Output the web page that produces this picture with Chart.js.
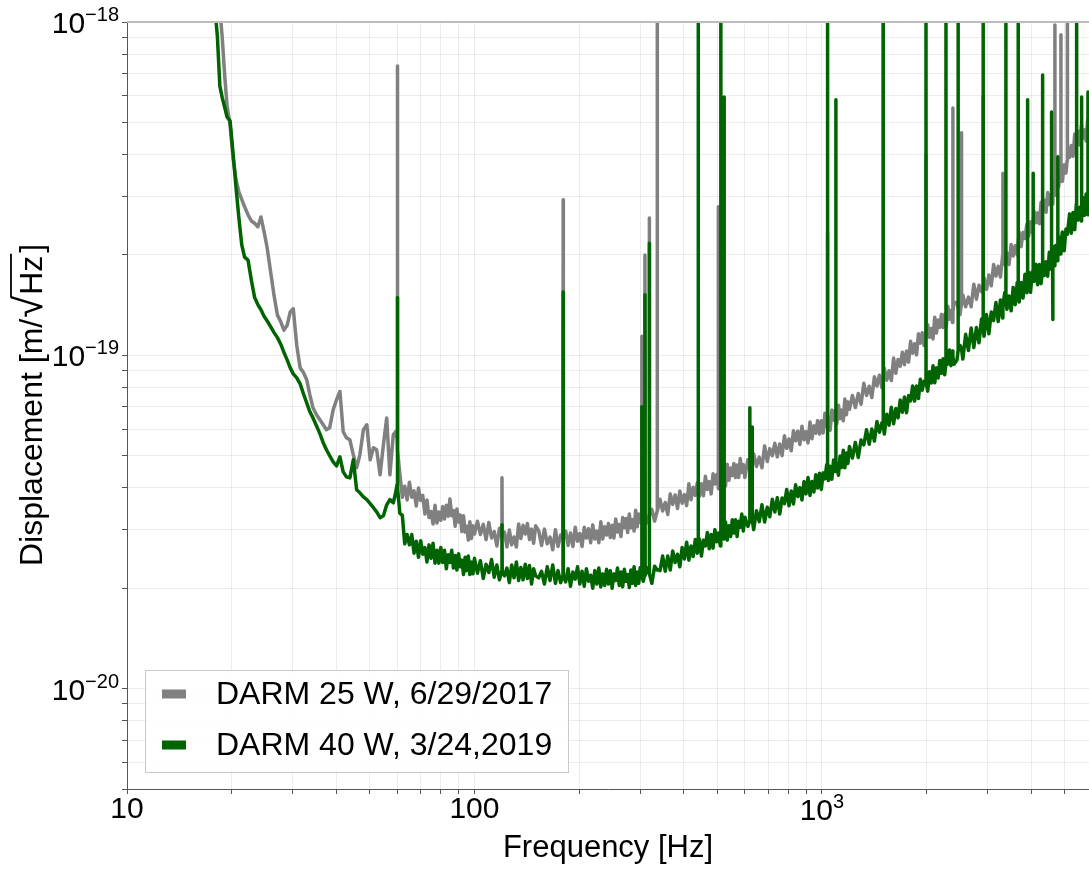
<!DOCTYPE html>
<html><head><meta charset="utf-8">
<script src="https://cdn.jsdelivr.net/npm/chart.js@4.4.1/dist/chart.umd.min.js"></script>
<style>html,body{margin:0;padding:0;background:#fff;}canvas{display:block;}</style>
</head><body>
<canvas id="c" width="1089" height="869"></canvas>
<script>
// Frequencies (Hz), shared by both spectra
const freqHz = [
 17.9,18.2,18.5,18.8,19.1,19.4,19.8,20.2,20.6,21.0,
 21.4,21.8,22.3,22.8,23.3,23.8,24.3,24.8,25.3,25.9,
 26.5,27.1,27.7,28.3,28.9,29.5,30.1,30.8,31.5,32.2,
 32.9,33.6,34.3,35.1,35.9,36.7,37.5,38.3,39.2,40.1,
 41.0,41.9,42.8,43.8,44.8,45.8,46.8,47.9,49.0,50.1,
 51.2,52.3,53.5,54.7,55.9,57.1,58.4,59.3,59.9,60.0,60.1,
 61,62,63,64,65,66,67,68,69,70, 71,72,73,74,75,76,77,78,79,80,
 81,82,83,84,85,86,87,88,89,90, 91,92,93,94,95,96,97,98,99,100,
 102,104,106,108,110,112,114,116,118,119.8, 120,120.2,122,124,126,128,130,132,134,136,
 138,140,142,144,146,148,150,
 153,156,159,162,165,168,171,174,177,179.8, 180,180.2,183,186,189,192,195,198,201,204,
 207,210,213,216,219,222,225,228,231,234, 237,240,243,246,249,252,255,258,261,264,
 267,270,273,276,279,282,285,288,291,294, 297,300,
 302.5,303,303.5,306,309,309.5,310,312,318,318.5, 319,324,330,335.3,335.7,336.1,342,348,354,360,
 366,372,378,384,390,396,402,408,414,420, 426,432,438,440,440.5,441,444,450,456,462,
 468,474,480,486,492,498,502.6,503,503.4,504, 510,511.5,512,512.5,516,522,522.6,523,523.4,528,
 534,540,546,552,558,564,570,576,582,588, 594,600,
 612,619.6,620,620.4,624,629.6,630,630.4,636,648, 660,672,684,696,708,720,732,744,756,768,
 780,792,804,816,828,840,852,864,876,888, 900,912,924,936,948,960,972,984,996,1008,
 1020,1032,1037.5,1038,1038.5,1044,1056,1068,1080,1092, 1096.5,1097,1097.5,1104,1116,1128,1140,1152,1164,1176,
 1188,1200,
 1224,1248,1272,1296,1320,1344,1368,1392,1416,1440, 1464,1488,1500,1501,1502,1512,1536,1560,1584,1608,
 1632,1656,1680,1704,1728,1752,1776,1800,1824,1848, 1872,1896,1920,1944,1968,1992,1993,1994,2016,2040,
 2064,2088,2112,2136,2160,2184,2208,2232,2256,2274, 2275,2276,2280,2304,2328,2352,2376,2381,2382,2383,
 2400,
 2448,2465,2466,2467,2496,2521,2522,2523,2544,2592, 2640,2688,2736,2784,2832,2880,2910,2911,2912,2928,
 2976,3024,3072,3120,3168,3216,3264,3312,3317,3318, 3319,3360,3383,3384,3385,3408,3456,3504,3552,3600,
 3648,3671,3672,3673,3696,3744,3792,3840,3888,3907, 3908,3909,3936,3984,4032,4054,4055,4056,4080,4128,
 4176,4224,4272,4314,4315,4316,4320,4368,4416,4464, 4512,4560,4579,4580,4581,4608,4619,4620,4621,4656,
 4682,4683,4684,4704,4752,4774,4775,4776,4800,
 4860,4873,4874,4875,4920,4980,5040,5080,5081,5082, 5100,5160,5220,5280,5340,5400,5407,5408,5409,5460,
 5520,5580,5589,5590,5591,5640,5700,5760,5820,5829, 5830,5831,5880
];
// DARM 25 W, 6/29/2017 — displacement in units of 1e-20 m/sqrt(Hz)
const darm2017 = [
 140,125,110,89.5,69.4,56.3,49.1,39.0,33.6,30.9,
 29.3,27.9,26.4,25.3,24.9,24.3,26.0,23.5,21.1,17.8,
 15.1,13.2,12.6,11.9,12.3,13.5,13.8,10.7,9.17,8.88,
 8.45,7.61,6.96,6.63,6.41,6.19,5.98,6.06,6.86,7.36,
 7.79,5.90,5.66,5.58,5.03,4.60,5.03,5.98,6.19,4.86,
 5.28,5.21,4.38,5.39,6.49,4.38,5.78,5.90,5.6,73.8,5.2,
 4.41,3.75,4.05,3.68,4.16,3.75,3.92,3.53,4.00,3.67, 3.80,3.34,3.68,3.26,3.40,3.12,3.55,3.14,3.39,3.20,
 3.52,3.23,3.55,3.29,3.71,3.30,3.42,3.07,3.46,3.16, 3.32,2.96,3.30,2.95,3.07,2.79,3.17,2.82,3.08,2.91,
 3.18,2.90,3.11,2.80,3.15,2.83,2.96,2.68,3.03,2.85, 4.29,2.85,2.95,2.66,2.99,2.70,2.85,2.66,3.12,2.82,
 3.09,2.91,3.13,2.80,3.01,2.73,3.08,
 2.98,2.69,3.01,2.72,2.85,2.61,3.00,2.67,2.89,2.82, 29.3,2.82,2.97,2.69,2.93,2.67,3.05,2.77,2.92,2.67,
 3.05,2.83,3.02,2.74,3.10,2.81,2.97,2.74,3.17,2.81, 3.06,2.89,3.13,2.84,3.09,2.83,3.23,2.95,3.11,2.86,
 3.26,3.04,3.24,2.94,3.34,3.04,3.21,2.97,3.43,3.06, 3.34,3.15,
 3.25,11.4,3.26,3.43,3.28,20.0,3.28,3.13,3.31,25.8, 3.31,3.45,3.18,3.40,150,3.41,3.70,3.41,3.62,3.33,
 3.84,3.57,3.81,3.47,3.92,3.60,3.82,3.54,4.12,3.69, 4.02,3.80,4.15,3.96,3.96,3.96,3.78,4.12,3.79,4.34,
 3.96,4.18,3.84,4.41,4.11,4.38,4.22,27.9,4.22,3.98, 4.52,4.27,4.27,4.27,4.12,4.36,4.32,4.32,4.32,4.05,
 4.71,4.22,4.59,4.36,4.74,4.30,4.69,4.30,4.90,4.45, 4.70,4.30,
 4.86,4.70,4.70,4.70,4.44,4.75,4.75,4.75,5.07,4.64, 4.95,4.60,5.35,4.80,5.25,5.00,5.45,4.96,5.42,5.00,
 5.74,5.26,5.61,5.17,5.94,5.54,5.92,5.40,6.13,5.58, 5.90,5.46,6.31,5.62,6.15,5.84,6.37,5.81,6.36,5.85,
 6.70,6.12,6.33,23.3,6.33,6.49,5.96,6.86,6.39,6.84, 6.60,6.60,6.60,6.23,7.08,6.46,6.85,6.36,7.39,6.63,
 7.25,6.89,
 7.58,6.97,7.68,7.13,8.24,7.58,8.08,7.47,8.63,8.09, 8.72,8.00,8.57,150,8.57,9.16,8.42,8.99,8.40,9.81,
 8.84,9.72,9.28,10.21,9.37,10.31,9.54,11.02,10.15,10.83, 10.03,11.60,10.88,11.69,10.70,11.52,40,11.52,12.36,11.33,
 12.04,11.20,13.01,11.67,12.77,12.14,13.27,12.12,13.27,12.95, 12.95,12.95,12.22,14.04,12.84,13.63,12.54,13.5,55.2,13.5,
 14.42,
 14.39,13.9,13.9,13.9,13.24,14.2,46.5,14.2,15.18,13.98, 14.95,13.99,16.35,14.74,16.23,15.52,16.15,60,16.15,17.12,
 15.77,17.41,16.17,18.73,17.29,18.50,17.17,19.91,18.8,35.2, 18.8,18.72,19.3,19.3,19.3,20.28,18.71,21.52,19.87,21.31,
 20.00,21.7,21.7,21.7,23.43,21.19,23.38,22.41,24.72,23.7, 23.7,23.7,22.78,25.15,23.37,25.0,25.0,25.0,27.07,24.99,
 26.74,24.81,28.77,27.5,27.5,27.5,27.05,29.20,26.85,30.78, 28.34,30.30,30.2,30.2,30.2,28.46,30.6,30.6,30.6,33.38,
 31.5,97.9,31.5,30.21,33.37,32.5,32.5,32.5,32.01,
 35.7,34.2,91.6,34.2,33.25,37.29,35.25,38.5,150,38.5, 41.52,39.29,42.64,39.53,46.11,43.61,44.5,44.5,44.5,47.01,
 42.77,48.97,46.2,46.2,46.2,44.83,47.47,43.99,51.04,47.7, 47.7,47.7,45.6
];
// DARM 40 W, 3/24,2019 — displacement in units of 1e-20 m/sqrt(Hz)
const darm2019 = [
 110,90.8,64.3,59.2,55.6,51.9,50.5,40.2,31.8,25.7,
 21.4,19.7,19.3,16.8,14.9,14.2,13.7,13.1,12.7,12.2,
 11.7,11.3,10.8,10.2,9.69,9.17,8.80,8.56,8.21,7.67,
 7.20,6.77,6.49,6.15,5.82,5.47,5.21,5.00,4.79,4.66,
 4.96,4.47,4.32,4.29,4.86,3.95,3.87,3.76,3.69,3.59,
 3.49,3.39,3.26,3.30,3.56,3.69,3.61,3.87,4.1,14.9,4.0,
 3.36,3.31,2.72,2.90,2.70,2.90,2.55,2.77,2.48,2.78, 2.53,2.65,2.40,2.70,2.46,2.73,2.38,2.60,2.38,2.65,
 2.39,2.60,2.29,2.52,2.39,2.60,2.30,2.51,2.27,2.54, 2.32,2.43,2.20,2.48,2.26,2.50,2.20,2.40,2.21,2.46,
 2.22,2.42,2.14,2.36,2.23,2.44,2.16,2.35,2.12,2.25, 3.10,2.25,2.18,2.30,2.08,2.35,2.15,2.40,2.11,2.31,
 2.12,2.36,2.14,2.34,2.06,2.29,2.18,
 2.15,2.25,2.06,2.32,2.11,2.35,2.07,2.26,2.08,2.19, 15.5,2.19,2.09,2.29,2.03,2.24,2.13,2.32,2.06,2.25,
 2.03,2.29,2.10,2.19,2.00,2.26,2.06,2.30,2.02,2.21, 2.04,2.28,2.06,2.26,2.00,2.21,2.11,2.30,2.04,2.24,
 2.02,2.28,2.10,2.20,2.01,2.27,2.07,2.32,2.04,2.24, 2.07,2.31,
 2.18,7.01,2.18,2.10,2.19,15.2,2.19,2.31,2.21,21.7, 2.21,2.07,2.33,2.27,2.27,2.28,2.26,2.50,2.25,2.50,
 2.27,2.59,2.39,2.53,2.32,2.65,2.45,2.75,2.43,2.68, 2.49,2.80,2.55,2.67,150,2.67,2.81,2.50,2.79,2.68,
 2.94,2.63,2.90,2.64,3.00,2.76,2.86,2.86,2.86,2.93, 2.68,2.89,150,2.89,3.05,2.81,2.93,59.6,2.93,3.16,
 2.79,3.08,2.86,3.21,2.93,3.21,2.86,3.18,3.05,3.34, 2.97,3.27,
 3.07,3.18,6.96,3.18,3.26,3.21,6.10,3.21,3.00,3.42, 3.17,3.56,3.16,3.50,3.28,3.70,3.39,3.74,3.34,3.73,
 3.59,3.96,3.54,3.92,3.58,4.09,3.77,4.01,3.68,4.18, 3.84,4.30,3.80,4.18,3.89,4.38,4.00,4.43,3.96,4.44,
 4.26,4.70,4.40,150,4.40,4.21,4.65,4.25,4.85,4.48, 4.63,58.4,4.63,4.75,4.37,4.99,4.61,5.19,4.60,5.09,
 4.74,5.33,
 4.92,5.48,4.94,5.57,5.39,5.98,5.41,6.01,5.53,6.33, 5.88,6.27,6.2,150,6.2,5.81,6.66,6.17,6.99,6.23,
 6.93,6.49,7.35,6.75,7.50,6.73,7.57,7.30,8.09,7.29, 8.09,7.42,8.48,7.86,8.36,8.30,150,8.30,7.81,8.93,
 8.26,9.31,8.27,9.17,8.55,9.65,8.83,9.77,8.74,9.45, 150,9.45,9.79,9.41,10.38,9.31,10.30,9.92,9.92,9.92,
 9.40,
 9.69,10.3,150,10.3,10.71,10.5,10.5,10.5,9.75,11.56, 10.34,12.07,10.56,12.12,10.90,12.85,12.0,150,12.0,11.41,
 13.25,11.61,13.50,12.71,14.41,12.63,14.65,12.94,14.1,14.1, 14.1,15.44,14.4,150,14.4,13.74,15.06,13.60,15.99,14.19,
 16.55,15.45,150,15.45,14.45,16.55,14.86,17.50,15.42,16.5, 58.4,16.5,17.76,15.46,17.85,17.1,35.2,17.1,16.68,18.75,
 16.29,18.74,16.41,18.0,69.4,18.0,19.44,17.35,19.08,17.28, 20.37,18.14,19.4,53.7,19.4,21.21,19.8,12.8,19.8,18.58,
 20.1,20.1,20.1,21.34,19.21,20.8,39.4,20.8,22.68,
 20.12,21.7,21.7,21.7,23.43,20.61,23.94,23.8,23.8,23.8, 23.09,26.57,23.25,26.82,23.83,28.62,26.5,150,26.5,25.46,
 27.81,25.30,27.5,59.6,27.5,29.75,26.32,30.46,26.41,28.4, 61.7,28.4,30.03
];
const valueUnit = 1e-20;
const seriesLabels = ['DARM 25 W, 6/29/2017', 'DARM 40 W, 3/24,2019'];
const seriesColors = ['#808080', '#006400'];
const xTickValues = [10,20,30,40,50,60,70,80,90,100,200,300,400,500,600,700,800,900,1000,2000,3000,4000,5000];
const yTickValues = [5e-21,6e-21,7e-21,8e-21,9e-21,1e-20,2e-20,3e-20,4e-20,5e-20,6e-20,7e-20,8e-20,9e-20,
  1e-19,2e-19,3e-19,4e-19,5e-19,6e-19,7e-19,8e-19,9e-19,1e-18];
const xTickLabels = [ {value: 10, base: '10', exp: ''}, {value: 100, base: '100', exp: ''}, {value: 1000, base: '10', exp: '3'} ];
const yTickLabels = [ {value: 1e-20, base: '10', exp: '−20'}, {value: 1e-19, base: '10', exp: '−19'}, {value: 1e-18, base: '10', exp: '−18'} ];
const xTitle = 'Frequency [Hz]';
const yTitleParts = ['Displacement [m/', '√', 'Hz', ']'];

const FAMILY = "'Liberation Sans', Arial, Helvetica, sans-serif";
Chart.defaults.font.family = FAMILY;
Chart.defaults.color = '#000';

const frame = {
  id: 'frame',
  afterDraw(chart){
    const {ctx, chartArea: a} = chart;
    ctx.save();
    ctx.strokeStyle = '#bdbdbd'; ctx.lineWidth = 2;
    ctx.beginPath(); ctx.moveTo(a.left, a.top); ctx.lineTo(a.right, a.top); ctx.stroke();
    ctx.restore();
  }
};

const axisText = {
  id: 'axisText',
  afterDraw(chart){
    const ctx = chart.ctx, xs = chart.scales.x, ys = chart.scales.y;
    const big = "30px " + FAMILY, small = "20px " + FAMILY;
    ctx.save();
    ctx.fillStyle = '#000'; ctx.textAlign = 'left'; ctx.textBaseline = 'alphabetic';
    yTickLabels.forEach(t => {
      const y = ys.getPixelForValue(t.value);
      ctx.font = small; const we = ctx.measureText(t.exp).width;
      ctx.font = big; const wb = ctx.measureText(t.base).width;
      const right = ys.right - 8;
      ctx.font = big; ctx.fillText(t.base, right - we - wb, y + 11);
      ctx.font = small; ctx.fillText(t.exp, right - we, y - 1);
    });
    xTickLabels.forEach(t => {
      const x = xs.getPixelForValue(t.value);
      ctx.font = big; const wb = ctx.measureText(t.base).width;
      ctx.font = small; const we = t.exp ? ctx.measureText(t.exp).width : 0;
      const x0 = x - (wb + we) / 2;
      const base = t.exp ? 820 : 818;
      ctx.font = big; ctx.fillText(t.base, x0, base);
      if (t.exp) { ctx.font = small; ctx.fillText(t.exp, x0 + wb, base - 12); }
    });
    // y-axis title with radical and overline
    ctx.translate(42, 566); ctx.rotate(-Math.PI / 2);
    const f1 = "32px " + FAMILY, f2 = "40px " + FAMILY;
    let u = 0;
    ctx.font = f1; ctx.fillText(yTitleParts[0], u, 0); u += ctx.measureText(yTitleParts[0]).width + 1;
    ctx.font = f2; ctx.fillText(yTitleParts[1], u, 0);
    const mr = ctx.measureText(yTitleParts[1]);
    const barY = -mr.actualBoundingBoxAscent + 1;
    const barStart = u + mr.width - 1.5; u += mr.width + 1;
    ctx.font = f1; ctx.fillText(yTitleParts[2], u, 0); u += ctx.measureText(yTitleParts[2]).width;
    const barEnd = u + 2;
    ctx.fillText(yTitleParts[3], u + 3, 0);
    ctx.strokeStyle = '#000'; ctx.lineWidth = 1.8;
    ctx.beginPath(); ctx.moveTo(barStart, barY); ctx.lineTo(barEnd, barY); ctx.stroke();
    ctx.restore();
  }
};

const legendBox = {
  id: 'legendBox',
  afterDraw(chart){
    const ctx = chart.ctx;
    const x0 = 145.5, y0 = 670.5, w = 423, h = 102;
    ctx.save();
    ctx.fillStyle = 'rgba(255,255,255,0.85)';
    ctx.fillRect(x0, y0, w, h);
    ctx.strokeStyle = '#c8c8c8'; ctx.lineWidth = 1;
    ctx.strokeRect(x0, y0, w, h);
    ctx.font = "32px " + FAMILY;
    ctx.textBaseline = 'middle'; ctx.textAlign = 'left';
    chart.data.datasets.forEach((ds, i) => {
      const yc = 694 + i * 51;
      ctx.fillStyle = ds.borderColor;
      ctx.fillRect(162, yc - 4.5, 24, 9);
      ctx.fillStyle = '#000';
      ctx.fillText(ds.label, 216, yc + 1);
    });
    ctx.restore();
  }
};

const gridColor = 'rgba(0,0,0,0.075)';
new Chart(document.getElementById('c'), {
  type: 'line',
  data: {
    datasets: [
      { label: seriesLabels[0], data: freqHz.map((f, i) => ({x: f, y: darm2017[i] * valueUnit})),
        borderColor: seriesColors[0], backgroundColor: seriesColors[0], borderWidth: 3.5, pointRadius: 0, order: 2, clip: 0 },
      { label: seriesLabels[1], data: freqHz.map((f, i) => ({x: f, y: darm2019[i] * valueUnit})),
        borderColor: seriesColors[1], backgroundColor: seriesColors[1], borderWidth: 3.5, pointRadius: 0, order: 1, clip: 0 }
    ]
  },
  options: {
    responsive: false, animation: false, devicePixelRatio: 1,
    layout: { padding: { top: 22, right: 0, bottom: 0, left: 0 } },
    elements: { line: { tension: 0, borderJoinStyle: 'round', borderCapStyle: 'butt' } },
    plugins: { legend: { display: false }, tooltip: { enabled: false } },
    scales: {
      x: {
        type: 'logarithmic', min: 10, max: 5870,
        afterBuildTicks: s => { s.ticks = xTickValues.map(v => ({value: v})); },
        afterFit: s => { s.height = 80; },
        grid: { color: gridColor, tickColor: '#555', tickLength: 5, lineWidth: 1 },
        border: { color: '#555', width: 1 },
        ticks: { display: false, autoSkip: false },
        title: { display: true, text: xTitle, font: { size: 31 }, color: '#000', padding: { top: 0, bottom: 2 } }
      },
      y: {
        type: 'logarithmic', min: 5e-21, max: 1e-18,
        afterBuildTicks: s => { s.ticks = yTickValues.map(v => ({value: v})); },
        afterFit: s => { s.width = 127; },
        grid: { color: gridColor, tickColor: '#555', tickLength: 5, lineWidth: 1 },
        border: { color: '#555', width: 1 },
        ticks: { display: false, autoSkip: false },
        title: { display: false }
      }
    }
  },
  plugins: [frame, axisText, legendBox]
});
</script>
</body></html>
